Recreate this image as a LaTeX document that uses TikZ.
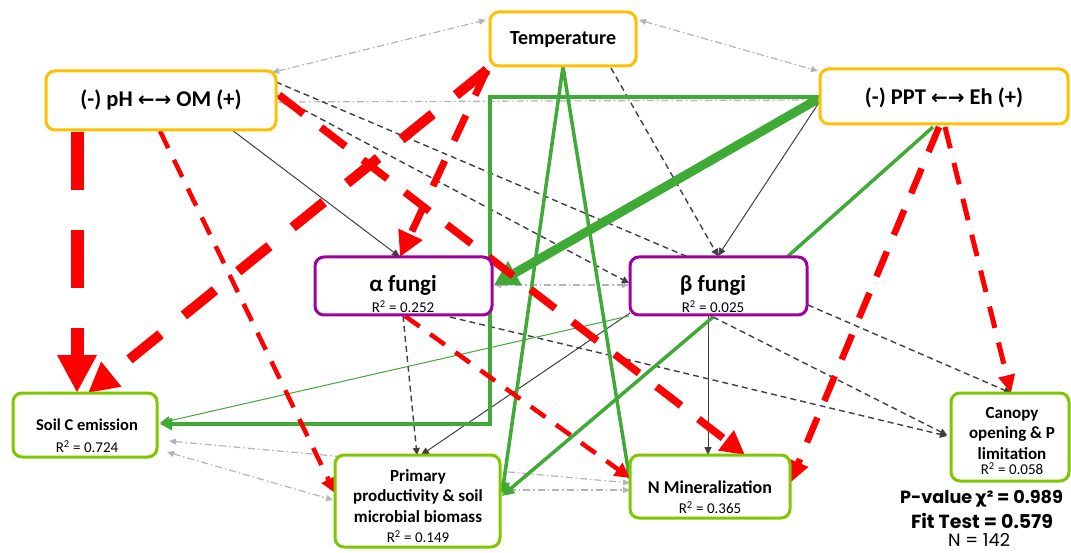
\documentclass[tikz,border=0pt]{standalone}
\usepackage{fontspec}
\setmainfont{Carlito}
\newfontfamily\arrfont{DejaVu Sans}
\newfontfamily\statfont{Poppins}
\usetikzlibrary{arrows.meta,backgrounds}
\definecolor{cOr}{HTML}{FFC000}
\definecolor{cPu}{HTML}{A1009F}
\definecolor{cGb}{HTML}{7DC800}
\definecolor{cGl}{HTML}{3FAA35}
\definecolor{cRd}{HTML}{FF0000}
\definecolor{cDk}{HTML}{404040}
\definecolor{cGy}{HTML}{B4B4B4}
\tikzset{
  box/.style={draw, line width=3pt, rounded corners=9pt, fill=white, inner sep=0pt, outer sep=0pt},
  ob/.style={box, draw=cOr},
  pb/.style={box, draw=cPu},
  gb/.style={box, draw=cGb},
  ttl/.style={inner sep=0pt, align=center, font=\bfseries},
  rsq/.style={inner sep=0pt, font=\fontsize{15}{15}\selectfont},
  dd/.style={draw=cGy, line width=1.2pt, dash pattern=on 7pt off 3pt on 1.5pt off 3pt,
     {Triangle[length=7pt,width=6pt]}-{Triangle[length=7pt,width=6pt]}},
  dk/.style={draw=cDk, line width=1.4pt, dash pattern=on 6pt off 4pt, -{Triangle[length=7pt,width=7pt]}},
  dkn/.style={draw=cDk, line width=1.4pt, dash pattern=on 6pt off 4pt},
  bl/.style={draw=cDk, line width=1pt, -{Triangle[length=8pt,width=7pt]}},
  gr/.style={draw=cGl, line width=3.5pt, -{Triangle[length=12pt,width=12pt]}},
  grn/.style={draw=cGl, line width=3.5pt},
  rd/.style={draw=cRd, line width=4.5pt, dash pattern=on 19pt off 13pt, -{Triangle[length=15pt,width=15pt]}},
  stat/.style={inner sep=0pt, font=\statfont\bfseries},
}
\begin{document}
\begin{tikzpicture}[x=1pt,y=-1pt]
\useasboundingbox (0,0) rectangle (1071,553);
% boxes
\node[ob, minimum width=146pt, minimum height=54pt] (temp) at (563,39) {};
\node[ob, minimum width=230pt, minimum height=59pt] (ph) at (161,100.5) {};
\node[ob, minimum width=248pt, minimum height=55pt] (ppt) at (944,96.5) {};
\node[pb, minimum width=177pt, minimum height=58pt] (alpha) at (403.5,286) {};
\node[pb, minimum width=177pt, minimum height=58pt] (beta) at (718.5,286) {};
\node[gb, minimum width=144pt, minimum height=64pt] (soil) at (85,425) {};
\node[gb, minimum width=165pt, minimum height=92pt] (prim) at (417.5,501) {};
\node[gb, minimum width=160pt, minimum height=63pt] (nmin) at (710,486.5) {};
\node[gb, minimum width=118pt, minimum height=88pt] (canopy) at (1010,437) {};
% texts
\node[ttl, font=\bfseries\fontsize{20}{20}\selectfont] (tempT) at (563,40) {Temperature};
\node[ttl, font=\bfseries\fontsize{22.5}{22.5}\selectfont] (phT) at (161,100) {(-) pH {\arrfont\fontsize{20}{20}\selectfont ←→} OM (+)};
\node[ttl, font=\bfseries\fontsize{22.5}{22.5}\selectfont] (pptT) at (944,98) {(-) PPT {\arrfont\fontsize{20}{20}\selectfont ←→} Eh (+)};
\node[ttl, font=\bfseries\fontsize{23}{23}\selectfont] (alphaT) at (403,285) {α fungi};
\node[rsq] (alphaR) at (403,307) {R\textsuperscript{2} = 0.252};
\node[ttl, font=\bfseries\fontsize{23}{23}\selectfont] (betaT) at (713,285) {β fungi};
\node[rsq] (betaR) at (713,307) {R\textsuperscript{2} = 0.025};
\node[ttl, font=\bfseries\fontsize{16.5}{16.5}\selectfont] (soilT) at (87,425) {Soil C emission};
\node[rsq] (soilR) at (87,447) {R\textsuperscript{2} = 0.724};
\node[ttl, font=\bfseries\fontsize{17}{20.5}\selectfont] (primT) at (418,496) {Primary\\productivity \& soil\\microbial biomass};
\node[rsq] (primR) at (418,537) {R\textsuperscript{2} = 0.149};
\node[ttl, font=\bfseries\fontsize{18}{18}\selectfont] (nminT) at (710,487) {N Mineralization};
\node[rsq] (nminR) at (710,508) {R\textsuperscript{2} = 0.365};
\node[ttl, font=\bfseries\fontsize{17}{20.5}\selectfont] (canT) at (1012,433) {Canopy\\opening \& P\\limitation};
\node[rsq] (canR) at (1012,469) {R\textsuperscript{2} = 0.058};
\node[stat] (pval) at (981.5,499) {\resizebox{163pt}{!}{\fontsize{18}{18}\selectfont P-value\,{\arrfont\bfseries χ}² = 0.989}};
\node[stat] (fit) at (982,521) {\resizebox{142pt}{!}{\fontsize{18}{18}\selectfont Fit Test = 0.579}};
\node[inner sep=0pt] (nn) at (979,540) {\resizebox{62pt}{!}{\statfont\fontsize{12}{12}\selectfont N = 142}};
% connectors
\begin{scope}[on background layer]
\fill[white] (0,0) rectangle (1071,553);
% grey double arrows
\draw[dd] ([shift={(111,-28)}]ph.center) -- ([shift={(-77,-19)}]temp.center);
\draw[dd] ([shift={(76,-19)}]temp.center) -- ([shift={(-126,-25.5)}]ppt.center);
\draw[dd] ([shift={(117,1.5)}]ph.center) -- ([shift={(-128,3.5)}]ppt.center);
\draw[dd] ([shift={(82,27)}]soil.center) -- ([shift={(-84.5,-1)}]prim.center);
\draw[dd] ([shift={(84,16)}]soil.center) -- ([shift={(-80,-3.5)}]nmin.center);
\draw[dd] ([shift={(84.5,-11)}]prim.center) -- ([shift={(-80,3.5)}]nmin.center);
\draw[dd] ([shift={(90.5,-1)}]alpha.center) -- ([shift={(-89.5,-1)}]beta.center);
% dark dashed
\draw[dk] ([shift={(48,29)}]temp.center) -- ([shift={(-0.5,-30)}]beta.center);
\draw[dkn] ([shift={(115,-18.5)}]ph.center) -- ([shift={(-30.5,-29)}]beta.center);
\draw[dk] ([shift={(115,-5.5)}]ph.center) -- ([shift={(-89.5,-3)}]beta.center);
\draw[dk] ([shift={(-5.5,31)}]beta.center) -- ([shift={(-63,-2)}]canopy.center);
\draw[dk] ([shift={(89.5,19)}]beta.center) -- ([shift={(1,-44)}]canopy.center);
\draw[dk] ([shift={(46.5,31)}]alpha.center) -- ([shift={(-63,-1)}]canopy.center);
\draw[dk] ([shift={(-0.5,30)}]alpha.center) -- ([shift={(-0.5,-46)}]prim.center);
% thin dark solid
\draw[bl] ([shift={(71,29.5)}]ph.center) -- ([shift={(-3.5,-29)}]alpha.center);
\draw[bl] ([shift={(-124,4.5)}]ppt.center) -- ([shift={(-0.5,-30)}]beta.center);
\draw[bl] ([shift={(-10.5,30)}]beta.center) -- ([shift={(-2,-31.5)}]nmin.center);
\draw[bl] ([shift={(-88.5,27)}]beta.center) -- ([shift={(3.5,-46)}]prim.center);
% green
\draw[gr] ([shift={(-124,0.5)}]ppt.center) -- ++(-330,0) |- ([shift={(75,-1)}]soil.center);
\draw[gr] ([shift={(0,28)}]temp.center) -- ([shift={(-80,-5.5)}]nmin.center);
\draw[gr] ([shift={(0,28)}]temp.center) -- ([shift={(84.5,-7)}]prim.center);
\draw[gr] ([shift={(-5.5,31)}]beta.center) -- ([shift={(84.5,-5)}]prim.center);
\draw[grn] ([shift={(-11,30.5)}]ppt.center) -- ([shift={(68.5,-29)}]beta.center);
\draw[gr, line width=1pt, -{Triangle[length=10pt,width=9pt]}] ([shift={(-89.5,30)}]beta.center) -- ([shift={(75,-2)}]soil.center);
\draw[gr, line width=9pt, -{Triangle[length=24pt,width=26pt]}] ([shift={(-126,2.5)}]ppt.center) -- ([shift={(90.5,-1)}]alpha.center);
% red
\draw[rd] ([shift={(-1,30.5)}]ph.center) -- ([shift={(-82.5,-8)}]prim.center);
\draw[rd, dash pattern=on 18pt off 13pt] ([shift={(1.5,30)}]alpha.center) -- ([shift={(-80,-8.5)}]nmin.center);
\draw[rd, line width=6.5pt, dash pattern=on 27pt off 18pt, -{Triangle[length=22pt,width=20pt]}] ([shift={(-5,30.5)}]ppt.center) -- ([shift={(80,-3.5)}]nmin.center);
\draw[rd, line width=5pt, dash pattern=on 22pt off 15pt, -{Triangle[length=18pt,width=16pt]}] ([shift={(1,30.5)}]ppt.center) -- ([shift={(1,-44)}]canopy.center);
\draw[rd, line width=7.5pt, dash pattern=on 31pt off 22pt, -{Triangle[length=24pt,width=24pt]}] ([shift={(118,-5.5)}]ph.center) -- ([shift={(35,-31.5)}]nmin.center);
\draw[rd, line width=7pt, dash pattern=on 28pt off 22pt, -{Triangle[length=25pt,width=25pt]}] ([shift={(-76,31)}]temp.center) -- ([shift={(-3.5,-29)}]alpha.center);
\draw[rd, line width=10pt, dash pattern=on 40pt off 30pt, -{Triangle[length=30pt,width=30pt]}] ([shift={(-76,31)}]temp.center) -- ([shift={(3,-32)}]soil.center);
\draw[rd, line width=13pt, dash pattern=on 58pt off 40pt, -{Triangle[length=38pt,width=37pt]}] ([shift={(-84,31.5)}]ph.center) -- ([shift={(-8,-32)}]soil.center);
\end{scope}
\end{tikzpicture}
\end{document}
